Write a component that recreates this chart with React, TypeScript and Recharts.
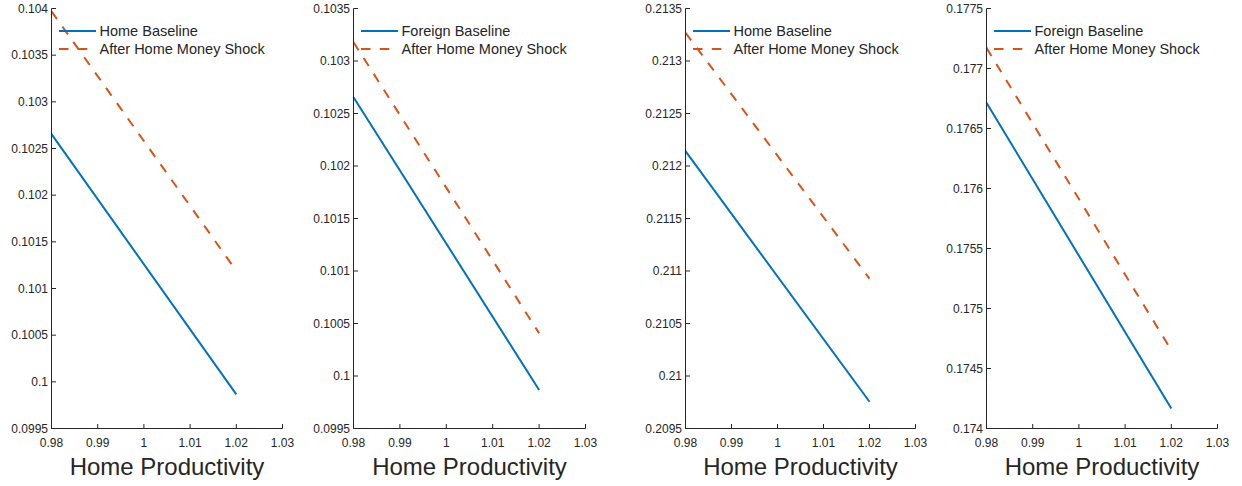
import { LineChart, Line, XAxis, YAxis, Legend } from "recharts";

// shared x grid (two end points, lines are straight)
const X_VALUES = [0.98, 1.02];
const X_TICKS = [0.98, 0.99, 1, 1.01, 1.02, 1.03];

// panel 1
const P1_BASE = [0.102654, 0.099865];
const P1_SHOCK = [0.10397, 0.10119];
const P1_TICKS = [0.0995, 0.1, 0.1005, 0.101, 0.1015, 0.102, 0.1025, 0.103, 0.1035, 0.104];

// panel 2
const P2_BASE = [0.102655, 0.099867];
const P2_SHOCK = [0.103179, 0.100407];
const P2_TICKS = [0.0995, 0.1, 0.1005, 0.101, 0.1015, 0.102, 0.1025, 0.103, 0.1035];

// panel 3
const P3_BASE = [0.212141, 0.209755];
const P3_SHOCK = [0.213269, 0.210927];
const P3_TICKS = [0.2095, 0.21, 0.2105, 0.211, 0.2115, 0.212, 0.2125, 0.213, 0.2135];

// panel 4
const P4_BASE = [0.176714, 0.174167];
const P4_SHOCK = [0.177172, 0.174653];
const P4_TICKS = [0.174, 0.1745, 0.175, 0.1755, 0.176, 0.1765, 0.177, 0.1775];

const SHOCK_NAME = "After Home Money Shock";

const BLUE = "#0072BD";
const ORANGE = "#D95319";
const INK = "#262626";
const FONT = "'Liberation Sans', Arial, Helvetica, sans-serif";
const DASH = "9.5 9.3";

interface PanelProps {
  left: number;
  plotW: number;
  baseName: string;
  base: number[];
  shock: number[];
  yTicks: number[];
}

type LegendEntry = { value: string; color: string; payload?: { strokeDasharray?: string } };

function PanelLegend({ payload, order }: { payload?: LegendEntry[]; order: string[] }) {
  if (!payload) return null;
  // keep the series order (baseline first), not the alphabetical one
  const items = [...payload].sort((a, b) => order.indexOf(a.value) - order.indexOf(b.value));
  return (
    <div style={{ fontFamily: FONT, fontSize: 14.5, color: INK }}>
      {items.map((p) => (
        <div key={p.value} style={{ display: "flex", alignItems: "center", height: 18, whiteSpace: "nowrap" }}>
          <svg width={41} height={18} style={{ display: "block" }}>
            <line
              x1={0}
              x2={37}
              y1={9}
              y2={9}
              stroke={p.color}
              strokeWidth={2}
              strokeDasharray={p.payload?.strokeDasharray}
            />
          </svg>
          <span>{p.value}</span>
        </div>
      ))}
    </div>
  );
}

function Panel({ left, plotW, baseName, base, shock, yTicks }: PanelProps) {
  const data = X_VALUES.map((x, i) => ({ x, base: base[i], shock: shock[i] }));
  const lo = yTicks[0];
  const hi = yTicks[yTicks.length - 1];
  const tickStyle = { fontSize: 12, fill: INK, fontFamily: FONT };
  return (
    <div style={{ position: "absolute", left, top: 0 }}>
      <LineChart
        width={51.5 + plotW + 25}
        height={486}
        data={data}
        margin={{ top: 8.5, right: 25, bottom: 0, left: 0 }}
      >
        <XAxis
          dataKey="x"
          type="number"
          domain={[0.98, 1.03]}
          ticks={X_TICKS}
          interval={0}
          height={57.5}
          stroke={INK}
          tickSize={-4.5}
          tickMargin={14}
          tick={tickStyle}
          label={{ value: "Home Productivity", position: "insideBottom", offset: 11.5, fontSize: 24, fill: INK, fontFamily: FONT }}
        />
        <XAxis
          xAxisId="top"
          orientation="top"
          type="number"
          domain={[0.98, 1.03]}
          ticks={X_TICKS}
          interval={0}
          height={0}
          stroke={INK}
          tickSize={-4.5}
          tick={false}
        />
        <YAxis
          type="number"
          domain={[lo, hi]}
          allowDataOverflow
          ticks={yTicks}
          interval={0}
          width={51.5}
          stroke={INK}
          tickSize={-4.5}
          tickMargin={8}
          tick={tickStyle}
        />
        <YAxis
          yAxisId="right"
          orientation="right"
          type="number"
          domain={[lo, hi]}
          allowDataOverflow
          ticks={yTicks}
          interval={0}
          width={0}
          stroke={INK}
          tickSize={-4.5}
          tick={false}
        />
        <Line
          dataKey="base"
          name={baseName}
          stroke={BLUE}
          strokeWidth={2}
          dot={false}
          isAnimationActive={false}
        />
        <Line
          dataKey="shock"
          name={SHOCK_NAME}
          stroke={ORANGE}
          strokeWidth={2}
          strokeDasharray={DASH}
          dot={false}
          isAnimationActive={false}
        />
        <Legend
          layout="vertical"
          align="center"
          verticalAlign="middle"
          wrapperStyle={{ left: 58.5, top: 22, width: 260, height: 36 }}
          content={<PanelLegend order={[baseName, SHOCK_NAME]} />}
        />
      </LineChart>
    </div>
  );
}

export default function App() {
  return (
    <div style={{ position: "absolute", left: 0, top: 0, width: 1242, height: 486, background: "#fff" }}>
      <Panel left={0} plotW={231} baseName="Home Baseline" base={P1_BASE} shock={P1_SHOCK} yTicks={P1_TICKS} />
      <Panel left={302} plotW={232} baseName="Foreign Baseline" base={P2_BASE} shock={P2_SHOCK} yTicks={P2_TICKS} />
      <Panel left={634} plotW={230} baseName="Home Baseline" base={P3_BASE} shock={P3_SHOCK} yTicks={P3_TICKS} />
      <Panel left={935} plotW={231} baseName="Foreign Baseline" base={P4_BASE} shock={P4_SHOCK} yTicks={P4_TICKS} />
    </div>
  );
}
